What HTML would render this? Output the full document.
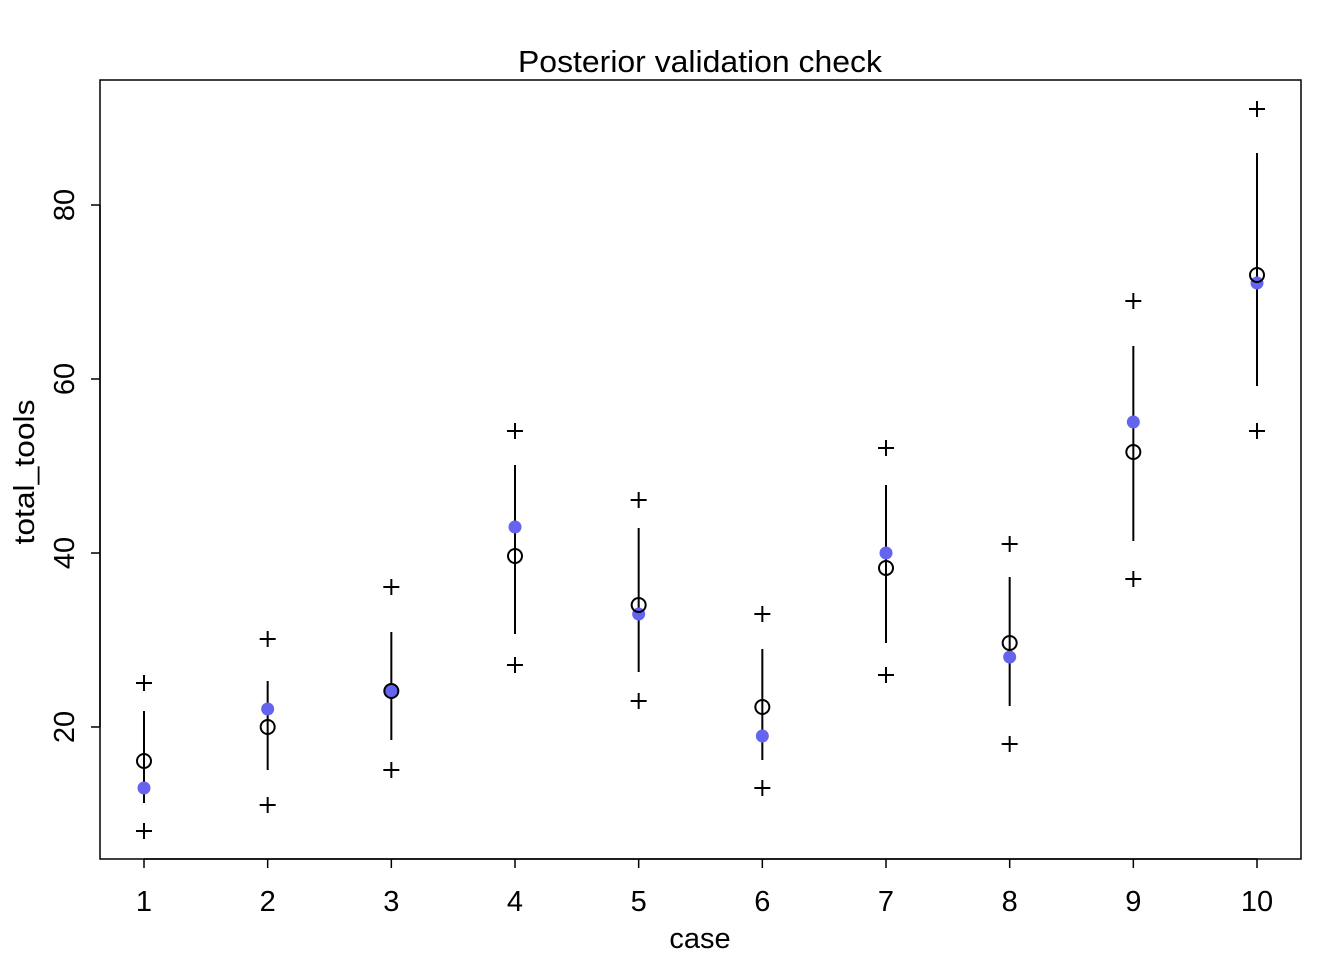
<!DOCTYPE html><html><head><style>body{margin:0;background:#fff}</style></head><body>
<svg width="1344" height="960" xmlns="http://www.w3.org/2000/svg" font-family="Liberation Sans, Arial, sans-serif">
<rect x="100" y="80" width="1201" height="779" fill="none" stroke="#000" stroke-width="1.5"/>
<text x="700" y="72" font-size="30.5" text-anchor="middle" textLength="364" lengthAdjust="spacingAndGlyphs">Posterior validation check</text>
<text x="700" y="948" font-size="29" text-anchor="middle">case</text>
<text transform="translate(34,472) rotate(-90)" font-size="29" text-anchor="middle" textLength="145" lengthAdjust="spacingAndGlyphs">total_tools</text>
<g stroke="#000" stroke-width="1.5">
<line x1="144" y1="859" x2="1257" y2="859"/>
<line x1="100" y1="727" x2="100" y2="205"/>
</g>
<g id="g"></g>
<script>
var S='http://www.w3.org/2000/svg',g=document.getElementById('g');
function el(t,a,txt){var e=document.createElementNS(S,t);for(var k in a)e.setAttribute(k,a[k]);if(txt)e.textContent=txt;g.appendChild(e);return e;}
for(var i=0;i<10;i++){var x=144+i*123.667;el('line',{x1:x,y1:859,x2:x,y2:868,stroke:'#000','stroke-width':1.5});el('text',{x:x,y:911,'font-size':29,'text-anchor':'middle'},''+(i+1));}
[20,40,60,80].forEach(function(v){var y=727-(v-20)*8.7;el('line',{x1:91,y1:y,x2:100,y2:y,stroke:'#000','stroke-width':1.5});el('text',{transform:'translate(74,'+y+') rotate(-90)','font-size':29,'text-anchor':'middle'},''+v);});
var d=[[683,831,711,803,761,788],[639,805,681,770,727,709],[587,770,632,740,691,691],[431,665,465,634,556,527],[500,701,528,672,605,614],[614,788,649,760,707,736],[448,675,485,643,568,553],[544,744,577,706,643,657],[301,579,346,541,452,422],[109,431,153,386,275,283]];
d.forEach(function(r,i){var x=144+i*123.667;
el('line',{x1:x,y1:r[2],x2:x,y2:r[3],stroke:'#000','stroke-width':2});
[r[0],r[1]].forEach(function(y){el('path',{d:'M'+(x-8)+' '+y+'h16M'+x+' '+(y-8)+'v16',stroke:'#000','stroke-width':2});});
el('circle',{cx:x,cy:r[5],r:6.5,fill:'#6464ee'});
el('circle',{cx:x,cy:r[4],r:7,fill:'none',stroke:'#000','stroke-width':2});
});
</script>
</svg></body></html>
